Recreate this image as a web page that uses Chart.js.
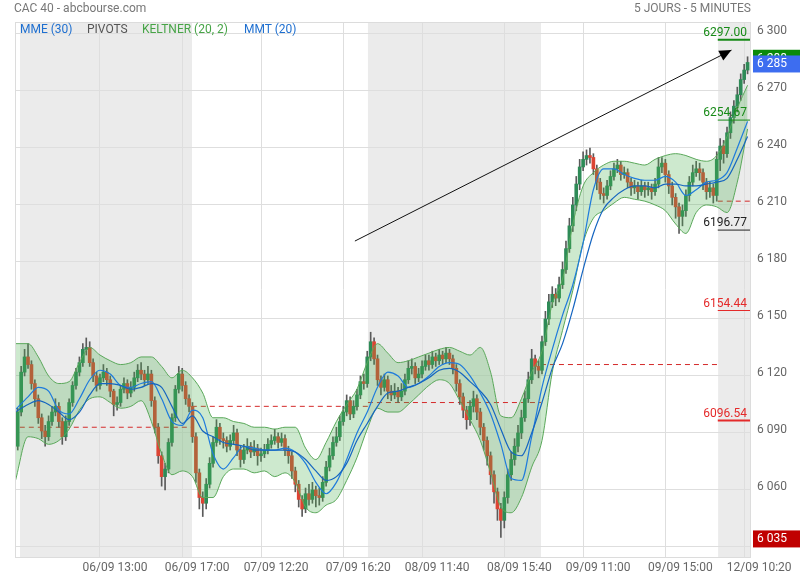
<!DOCTYPE html>
<html>
<head>
<meta charset="utf-8">
<script src="https://cdn.jsdelivr.net/npm/chart.js@4.4.1/dist/chart.umd.min.js"></script>
<style>
  html, body { margin: 0; padding: 0; background: #fff; }
  #wrap { position: relative; width: 800px; height: 580px; font-family: Roboto, sans-serif; }
  #c { position: absolute; left: 0; top: 0; }
  .txt { position: absolute; font-size: 12px; line-height: 16px; white-space: nowrap; }
</style>
</head>
<body>
<div id="wrap">
  <canvas id="c" width="800" height="580"></canvas>
  <div class="txt" style="left:14px;top:0;color:#777">CAC 40 - abcbourse.com</div>
  <div class="txt" style="right:49px;top:0;color:#777">5 JOURS - 5 MINUTES</div>
  <div class="txt" style="left:20px;top:21px;color:#1e6fd0">MME (30)</div>
  <div class="txt" style="left:87px;top:21px;color:#555">PIVOTS</div>
  <div class="txt" style="left:142px;top:21px;color:#47a447">KELTNER (20, 2)</div>
  <div class="txt" style="left:244px;top:21px;color:#1e6fd0">MMT (20)</div>
</div>
<script>
// 10-minute candles, index 0 = 06/09 09:00 (51 per session)
const opens = [
  6083,6101,6122,6130,6126,6116,6108,6098,6091,6088,6096,6101,6104,6096,6088,6096,6106,6115,6122,6127,6134,6135,6127,6120,6115,6119,6122,6118,6112,6105,6106,6113,6116,6111,6114,6119,6123,6121,6118,6121,6107,6093,6078,6067,6071,6085,6098,6113,6121,6115,6108,
  6104,6088,6069,6056,6053,6063,6074,6085,6093,6087,6086,6083,6086,6090,6081,6076,6081,6083,6080,6082,6078,6079,6081,6084,6086,6088,6085,6087,6081,6078,6070,6063,6055,6050,6058,6055,6060,6057,6056,6064,6072,6078,6085,6088,6096,6101,6107,6100,6104,6110,6117,
  6116,6130,6138,6129,6118,6114,6118,6112,6110,6112,6109,6112,6118,6124,6125,6119,6121,6125,6128,6126,6130,6128,6131,6129,6132,6129,6124,6116,6109,6102,6097,6104,6108,6101,6093,6086,6078,6068,6059,6050,6044,6056,6068,6076,6083,6090,6098,6108,6118,6129,6125,
  6123,6138,6150,6159,6163,6161,6168,6176,6187,6199,6210,6221,6230,6234,6236,6235,6229,6222,6216,6215,6220,6225,6229,6231,6226,6227,6222,6219,6220,6217,6220,6218,6219,6217,6221,6230,6232,6226,6220,6214,6209,6204,6207,6215,6222,6227,6229,6227,6222,6217,6219,
  6215,6234,6241,6237,6248,6256,6262,6268,6276,6281
];
const highs = [
  6103,6125,6134,6137,6128,6118,6110,6100,6094,6099,6104,6108,6106,6098,6099,6108,6117,6124,6130,6137,6140,6138,6129,6122,6121,6126,6124,6120,6113,6109,6115,6119,6118,6117,6122,6126,6127,6123,6125,6123,6109,6095,6080,6074,6087,6100,6115,6125,6124,6117,6110,
  6106,6090,6071,6059,6066,6077,6088,6097,6095,6090,6088,6089,6094,6092,6083,6084,6087,6085,6086,6084,6082,6084,6087,6089,6092,6090,6090,6089,6083,6080,6072,6065,6057,6061,6063,6064,6062,6061,6067,6075,6082,6088,6093,6099,6104,6110,6109,6107,6113,6120,6121,
  6133,6143,6140,6131,6120,6121,6120,6115,6116,6114,6116,6121,6128,6129,6127,6124,6128,6131,6131,6133,6132,6134,6133,6135,6134,6131,6126,6118,6111,6104,6107,6112,6110,6103,6095,6088,6080,6070,6061,6053,6059,6071,6080,6087,6094,6102,6112,6122,6134,6131,6128,
  6141,6154,6163,6167,6166,6172,6180,6191,6203,6214,6225,6234,6238,6239,6240,6237,6231,6224,6219,6223,6228,6232,6234,6233,6230,6229,6224,6223,6222,6223,6222,6222,6221,6224,6235,6235,6234,6228,6222,6216,6211,6210,6218,6225,6231,6233,6232,6229,6224,6222,6221,
  6238,6245,6244,6251,6259,6265,6272,6279,6284,6288
];
const lows = [
  6081,6099,6120,6124,6113,6104,6095,6087,6083,6086,6094,6099,6093,6084,6086,6094,6104,6113,6120,6125,6131,6125,6117,6112,6113,6117,6115,6109,6099,6102,6104,6111,6108,6109,6112,6117,6118,6115,6116,6104,6090,6074,6062,6060,6069,6083,6096,6111,6112,6105,6101,
  6085,6064,6050,6046,6050,6061,6072,6083,6084,6082,6080,6081,6084,6078,6072,6074,6079,6077,6078,6073,6075,6077,6079,6082,6084,6082,6083,6078,6074,6066,6059,6051,6046,6048,6052,6053,6051,6052,6054,6062,6070,6076,6083,6086,6094,6099,6097,6098,6102,6108,6113,
  6114,6128,6126,6115,6110,6112,6108,6107,6108,6106,6107,6110,6116,6121,6116,6117,6119,6123,6123,6124,6125,6126,6126,6127,6126,6121,6112,6105,6098,6092,6094,6101,6097,6089,6081,6073,6063,6053,6044,6035,6040,6053,6065,6073,6080,6087,6096,6106,6116,6121,6119,
  6121,6136,6147,6156,6157,6159,6166,6174,6185,6196,6207,6218,6228,6231,6232,6226,6218,6213,6211,6213,6218,6223,6227,6223,6224,6219,6215,6216,6213,6215,6214,6215,6213,6215,6219,6227,6222,6216,6210,6203,6195,6199,6204,6212,6220,6225,6223,6218,6213,6214,6211,
  6212,6228,6232,6235,6245,6253,6259,6265,6274,6279
];
const closes = [
  6101,6122,6130,6126,6116,6108,6098,6091,6088,6096,6101,6104,6096,6088,6096,6106,6115,6122,6127,6134,6135,6127,6120,6115,6119,6122,6118,6112,6105,6106,6113,6116,6111,6114,6119,6123,6121,6118,6121,6107,6093,6078,6067,6071,6085,6098,6113,6121,6115,6108,6104,
  6088,6069,6056,6053,6063,6074,6085,6093,6087,6086,6083,6086,6090,6081,6076,6081,6083,6080,6082,6078,6079,6081,6084,6086,6088,6085,6087,6081,6078,6070,6063,6055,6050,6058,6055,6060,6057,6056,6064,6072,6078,6085,6088,6096,6101,6107,6100,6104,6110,6117,6116,
  6130,6138,6129,6118,6114,6118,6112,6110,6112,6109,6112,6118,6124,6125,6119,6121,6125,6128,6126,6130,6128,6131,6129,6132,6129,6124,6116,6109,6102,6097,6104,6108,6101,6093,6086,6078,6068,6059,6050,6044,6056,6068,6076,6083,6090,6098,6108,6118,6129,6125,6123,
  6138,6150,6159,6163,6161,6168,6176,6187,6199,6210,6221,6230,6234,6236,6235,6229,6222,6216,6215,6220,6225,6229,6231,6226,6227,6222,6219,6220,6217,6220,6218,6219,6217,6221,6230,6232,6226,6220,6214,6209,6204,6207,6215,6222,6227,6229,6227,6222,6217,6219,6215,
  6234,6241,6237,6248,6256,6262,6268,6276,6281,6285
];

// indicator readings, sampled every 3 candles
const indX = [-0.8,3,6,9,12,15,18,21,24,27,30,33,36,39,42,45,48,51,54,57,60,63,66,69,72,75,78,81,84,87,90,93,96,99,102,105,108,111,114,117,120,123,126,129,132,135,138,141,144,147,150,153,156,159,162,165,168,171,174,177,180,183,186,189,192,195,198,201,204,207,210,213];
const keltUpper = [6137,6137,6130,6120,6116,6117,6127,6135,6131,6128,6126,6127,6130,6130,6125,6119,6123,6119,6111,6098,6098,6096,6095,6093,6093,6092,6093,6093,6082,6076,6085,6096,6105,6113,6127,6137,6132,6127,6128,6130,6132,6134,6135,6133,6131,6135,6122,6099,6098,6108,6122,6133,6158,6171,6200,6220,6227,6231,6233,6233,6232,6231,6234,6236,6237,6236,6234,6233,6236,6246,6261,6273];
const keltLower = [6064,6088,6087,6084,6086,6092,6102,6108,6109,6106,6103,6104,6107,6096,6079,6068,6070,6067,6056,6056,6067,6071,6071,6069,6070,6067,6069,6064,6051,6048,6052,6055,6065,6077,6092,6103,6101,6101,6105,6110,6115,6118,6116,6107,6097,6086,6069,6051,6048,6056,6072,6086,6122,6144,6165,6190,6203,6207,6211,6214,6213,6212,6210,6207,6200,6195,6206,6210,6209,6206,6222,6250];
const mme30 = [6101,6105,6107,6105,6101,6097,6101,6110,6116,6116,6115,6113,6114,6116,6114,6104,6095,6099,6091,6088,6085,6084,6083,6081,6081,6081,6081,6080,6076,6070,6065,6067,6074,6086,6095,6104,6111,6112,6114,6116,6119,6123,6124,6122,6117,6112,6105,6092,6080,6078,6090,6106,6124,6137,6155,6176,6195,6208,6214,6218,6220,6220,6219,6221,6221,6220,6220,6221,6222,6224,6234,6246];
const mmt20 = [6102,6109,6114,6112,6102,6100,6108,6118,6123,6121,6115,6114,6116,6117,6108,6096,6094,6102,6098,6079,6071,6077,6083,6082,6081,6081,6082,6080,6074,6064,6058,6064,6076,6090,6101,6114,6122,6120,6114,6116,6120,6125,6127,6126,6120,6111,6100,6084,6066,6065,6088,6114,6134,6152,6168,6190,6218,6229,6229,6226,6224,6223,6223,6225,6222,6215,6218,6222,6223,6227,6240,6254];

// daily pivot (dashed) per session
const sessionStart = [0.6, 50.8, 102.2, 152.7, 204.3];
const sessionEnd = [50.8, 102.2, 152.7, 204.3, 214];
const pivotValue = [6093, 6104, 6106, 6126, 6212];

// pivot levels of the last session
const levelValues = [6297.00, 6254.67, 6196.77, 6154.44, 6096.54];
const levelColors = ['#178a17', '#178a17', '#222222', '#e42a2a', '#e42a2a'];

// shaded sessions
const shadedFrom = [0.65, 102.2, 204.4];
const shadedTo = [50.85, 152.7, 214];

const xTickPos = [24, 48, 71, 95, 118, 142, 165, 189, 212];
const xTickLabels = ['06/09 13:00', '06/09 17:00', '07/09 12:20', '07/09 16:20', '08/09 11:40', '08/09 15:40', '09/09 11:00', '09/09 15:00', '12/09 10:20'];
const yTicks = [6030, 6060, 6090, 6120, 6150, 6180, 6210, 6240, 6270, 6300];

// trend arrow drawn on the chart
const arrowFrom = [98.4, 6191];
const arrowTo = [208.3, 6291.5];

// price markers on the axis
const markerValues = [6288, 6285, 6035];
const markerColors = ['#0a8a0a', '#3d6df0', '#c00000'];

const fmt = v => String(Math.round(v)).replace(/\B(?=(\d{3})+(?!\d))/g, ' ');
const up = '#2e8b57', down = '#dc4433';

const bodies = closes.map((c, i) => ({ x: i, y: [Math.min(opens[i], c), Math.max(opens[i], c)] }));
const wicks = closes.map((c, i) => ({ x: i, y: [lows[i], highs[i]] }));
const pts = arr => arr.map((v, i) => ({ x: indX[i], y: v }));

const lineBase = { type: 'line', pointRadius: 0, borderWidth: 1, fill: false, cubicInterpolationMode: 'monotone' };

const pivotSets = pivotValue.map((v, i) => ({
  ...lineBase, data: [{ x: sessionStart[i], y: v }, { x: sessionEnd[i], y: v }],
  borderColor: '#d42a2a', borderDash: [5, 4], order: 20
}));
const levelSets = levelValues.map((v, i) => ({
  ...lineBase, data: [{ x: sessionStart[4], y: v }, { x: sessionEnd[4], y: v }],
  borderColor: levelColors[i], borderWidth: (i === 0 || i === 4) ? 2 : 1, order: 3
}));

const deco = {
  id: 'deco',
  beforeDraw(chart) {
    const { ctx, chartArea: a, scales: { x } } = chart;
    ctx.save();
    ctx.fillStyle = '#fff';
    ctx.fillRect(0, 0, chart.width, chart.height);
    ctx.fillStyle = '#ebebeb';
    shadedFrom.forEach((s, i) => {
      const x0 = Math.max(a.left, x.getPixelForValue(s));
      const x1 = Math.min(a.right, x.getPixelForValue(shadedTo[i]));
      ctx.fillRect(x0, a.top, x1 - x0, a.bottom - a.top);
    });
    ctx.restore();
  },
  afterDatasetsDraw(chart) {
    const { ctx, chartArea: a, scales: { x, y } } = chart;
    ctx.save();
    // arrow head
    const x1 = x.getPixelForValue(arrowFrom[0]), y1 = y.getPixelForValue(arrowFrom[1]);
    const x2 = x.getPixelForValue(arrowTo[0]), y2 = y.getPixelForValue(arrowTo[1]);
    const ang = Math.atan2(y2 - y1, x2 - x1);
    ctx.fillStyle = '#000';
    ctx.beginPath();
    ctx.moveTo(x2, y2);
    ctx.lineTo(x2 - 12 * Math.cos(ang) + 5.5 * Math.sin(ang), y2 - 12 * Math.sin(ang) - 5.5 * Math.cos(ang));
    ctx.lineTo(x2 - 12 * Math.cos(ang) - 5.5 * Math.sin(ang), y2 - 12 * Math.sin(ang) + 5.5 * Math.cos(ang));
    ctx.closePath();
    ctx.fill();
    // level labels
    ctx.font = '12px Roboto';
    ctx.textAlign = 'right';
    ctx.textBaseline = 'alphabetic';
    levelValues.forEach((v, i) => {
      ctx.fillStyle = levelColors[i];
      ctx.fillText(v.toFixed(2), a.right - 4, y.getPixelForValue(v) - 4);
    });
    // frame
    ctx.strokeStyle = '#dcdcdc';
    ctx.lineWidth = 1;
    ctx.strokeRect(a.left + 0.5, a.top + 0.5, a.right - a.left - 1, a.bottom - a.top);
    ctx.restore();
  },
  afterDraw(chart) {
    const { ctx, chartArea: a, scales: { y } } = chart;
    ctx.save();
    ctx.font = '12px Roboto';
    ctx.textAlign = 'left';
    ctx.textBaseline = 'middle';
    markerValues.forEach((v, i) => {
      const py = y.getPixelForValue(v) + 1.5;
      ctx.fillStyle = markerColors[i];
      ctx.fillRect(a.right + 2, py - 8.5, chart.width - a.right - 2, 17);
      ctx.fillStyle = '#fff';
      ctx.fillText(fmt(v), a.right + 6, py + 0.5);
    });
    ctx.restore();
  }
};

new Chart(document.getElementById('c'), {
  type: 'bar',
  data: {
    datasets: [
      ...pivotSets,
      { type: 'bar', data: wicks, backgroundColor: '#5a5a5a', barThickness: 1, grouped: false, order: 15 },
      {
        type: 'bar', data: bodies, barThickness: 3, grouped: false, minBarLength: 1, order: 14,
        backgroundColor: c => (c.dataIndex !== undefined && closes[c.dataIndex] < opens[c.dataIndex]) ? down : up
      },
      { ...lineBase, data: pts(keltUpper), borderColor: '#5aa85a', order: 10 },
      { ...lineBase, data: pts(keltLower), borderColor: '#5aa85a', fill: '-1', backgroundColor: 'rgba(76,175,80,0.28)', order: 10 },
      { ...lineBase, data: pts(mme30), borderColor: '#1565c0', borderWidth: 1.2, order: 5 },
      { ...lineBase, data: pts(mmt20), borderColor: '#1e7bdc', borderWidth: 1.2, order: 5 },
      ...levelSets,
      { ...lineBase, data: [{ x: arrowFrom[0], y: arrowFrom[1] }, { x: arrowTo[0], y: arrowTo[1] }], borderColor: '#111', order: 1 }
    ]
  },
  options: {
    responsive: false,
    animation: false,
    devicePixelRatio: 1,
    layout: { padding: { left: 15, top: 22, right: 0, bottom: 0 } },
    plugins: { legend: { display: false }, tooltip: { enabled: false } },
    scales: {
      x: {
        type: 'linear', min: -0.8, max: 214, offset: false,
        grid: { color: '#dedede', drawTicks: false, offset: false },
        border: { display: false },
        afterBuildTicks: s => { s.ticks = xTickPos.map(v => ({ value: v })); },
        afterFit: s => { s.height = 23; },
        ticks: {
          autoSkip: false, maxRotation: 0, labelOffset: 15, padding: 4, color: '#666',
          font: { family: 'Roboto', size: 12 },
          callback: (v, i) => xTickLabels[i]
        }
      },
      y: {
        position: 'right', min: 6024.7, max: 6306.3,
        grid: { color: '#dedede', drawTicks: false },
        border: { display: false },
        afterBuildTicks: s => { s.ticks = yTicks.map(v => ({ value: v })); },
        afterFit: s => { s.width = 49; },
        ticks: {
          padding: 6, labelOffset: -3, color: '#666',
          font: { family: 'Roboto', size: 12 },
          callback: v => fmt(v)
        }
      }
    }
  },
  plugins: [deco]
});
</script>
</body>
</html>
